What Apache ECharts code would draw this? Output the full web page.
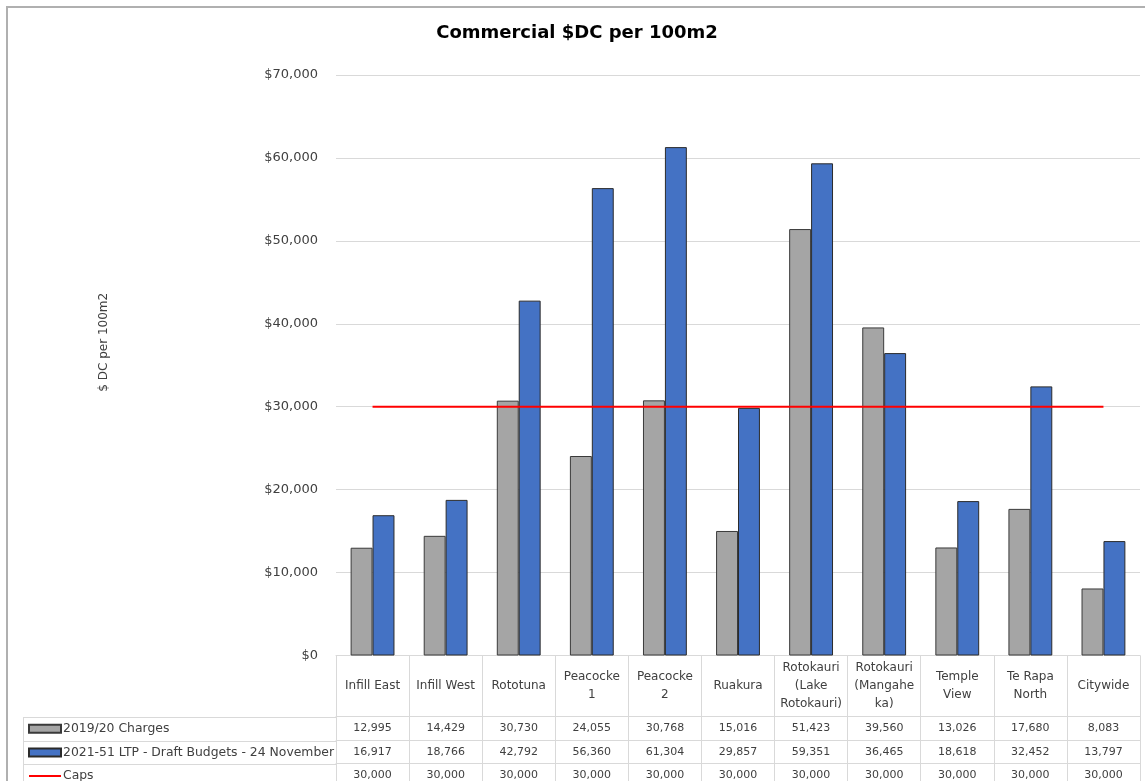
<!DOCTYPE html>
<html>
<head>
<meta charset="utf-8">
<script src="https://cdn.jsdelivr.net/npm/echarts@6/dist/echarts.min.js"></script>
<style>
html,body{margin:0;padding:0;background:#fff;}
#chart{width:1145px;height:781px;}
</style>
</head>
<body>
<div id="chart"></div>
<script>
const categories = ["Infill East", "Infill West", "Rototuna", "Peacocke\n1", "Peacocke\n2", "Ruakura",
  "Rotokauri\n(Lake\nRotokauri)", "Rotokauri\n(Mangahe\nka)", "Temple\nView", "Te Rapa\nNorth", "Citywide"];
const charges2019 = [12995, 14429, 30730, 24055, 30768, 15016, 51423, 39560, 13026, 17680, 8083];
const ltp2021 = [16917, 18766, 42792, 56360, 61304, 29857, 59351, 36465, 18618, 32452, 13797];
const caps = [30000, 30000, 30000, 30000, 30000, 30000, 30000, 30000, 30000, 30000, 30000];
const seriesNames = ["2019/20 Charges", "2021-51 LTP - Draft Budgets - 24 November", "Caps"];
const yTicks = {min: 0, max: 70000, interval: 10000};

const FONT = "DejaVu Sans";
const fmt = v => v.toLocaleString('en-US');
const txt = '#404040';
const gridCol = '#d9d9d9';

const G = {left: 336, right: 5, top: 75, bottom: 125};
const headerH = 61, rowH = 23.6;

const chart = echarts.init(document.getElementById('chart'));

function valueAxis(arr, k) {
  return {
    type: 'category', gridIndex: 0, position: 'bottom', data: categories,
    offset: headerH + rowH * k,
    axisLine: {show: true, lineStyle: {color: gridCol, width: 1}},
    axisTick: {show: false}, splitLine: {show: false},
    axisLabel: {interval: 0, margin: rowH / 2, verticalAlign: 'middle', color: txt,
      fontFamily: FONT, fontSize: 11, formatter: (v, i) => fmt(arr[i])}
  };
}

const tableTop = 781 - G.bottom + headerH;

const option = {
  backgroundColor: '#fff',
  animation: false,
  title: {
    text: 'Commercial $DC per 100m2', left: 572, top: 19, textAlign: 'center',
    textStyle: {fontFamily: FONT, fontWeight: 'bold', fontSize: 18, color: '#000'}
  },
  legend: {
    orient: 'vertical', left: 28, padding: 0, height: 100,
    data: [
      {name: seriesNames[0], icon: 'rect'},
      {name: seriesNames[1], icon: 'rect'},
      {name: seriesNames[2], itemStyle: {opacity: 0}}
    ],
    top: tableTop + rowH / 2 - 7,
    itemWidth: 32, itemHeight: 8, itemGap: rowH - 14,
    textStyle: {fontFamily: FONT, fontSize: 12.4, lineHeight: 14, color: txt, padding: [0, 0, 0, -3]},
    selectedMode: false
  },
  grid: {left: G.left, right: G.right, top: G.top, bottom: G.bottom, containLabel: false},
  xAxis: [
    {
      type: 'category', data: categories, position: 'bottom',
      axisLine: {show: true, lineStyle: {color: gridCol}},
      axisTick: {show: true, length: headerH + rowH * 3 + 5, lineStyle: {color: gridCol}},
      axisLabel: {interval: 0, margin: headerH / 2, verticalAlign: 'middle', color: txt,
        fontFamily: FONT, fontSize: 12, lineHeight: 18},
      splitLine: {show: false}
    },
    valueAxis(charges2019, 0),
    valueAxis(ltp2021, 1),
    valueAxis(caps, 2)
  ],
  yAxis: {
    type: 'value', min: yTicks.min, max: yTicks.max, interval: yTicks.interval,
    name: '$ DC per 100m2', nameLocation: 'middle', nameRotate: 90, nameGap: 226,
    nameTextStyle: {fontFamily: FONT, fontSize: 12, color: txt, padding: [0, 0, 0, 46]},
    axisLine: {show: false}, axisTick: {show: false},
    axisLabel: {margin: 18, color: txt, fontFamily: FONT, fontSize: 13, formatter: v => '$' + fmt(v)},
    splitLine: {lineStyle: {color: gridCol, width: 1}}
  },
  series: [
    {
      name: seriesNames[0], type: 'bar', data: charges2019, barGap: '0%', barCategoryGap: '40%',
      itemStyle: {color: '#A5A5A5', borderColor: '#3a3a3a', borderWidth: 1}
    },
    {
      name: seriesNames[1], type: 'bar', data: ltp2021, barGap: '0%', barCategoryGap: '40%',
      itemStyle: {color: '#4472C4', borderColor: '#2b2b2b', borderWidth: 1}
    },
    {
      name: seriesNames[2], type: 'line', data: caps, symbol: 'none', z: 5,
      lineStyle: {color: '#FF0000', width: 2}, itemStyle: {color: '#FF0000'}
    }
  ]
};
chart.setOption(option);

// frame around the chart and the legend column of the data table
const legLeft = 23;
const lines = [];
for (let k = 0; k < 3; k++) {
  const y = Math.round(tableTop + rowH * k) + 0.5;
  lines.push({type: 'line', shape: {x1: legLeft, y1: y, x2: G.left, y2: y}, style: {stroke: gridCol, lineWidth: 1}});
}
lines.push({type: 'line', shape: {x1: legLeft + 0.5, y1: tableTop, x2: legLeft + 0.5, y2: 790}, style: {stroke: gridCol, lineWidth: 1}});
lines.push({type: 'rect', shape: {x: 7, y: 7, width: 1300, height: 1000}, style: {fill: null, stroke: '#b0b0b0', lineWidth: 2}, silent: true});
chart.setOption({graphic: lines});
</script>
</body>
</html>
